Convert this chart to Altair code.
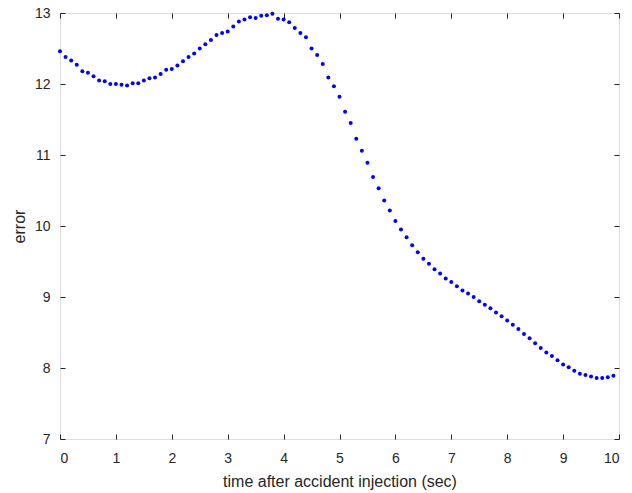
import altair as alt
import pandas as pd

times = [0.0, 0.1, 0.2, 0.3, 0.4, 0.5, 0.6, 0.7, 0.8, 0.9,
         1.0, 1.1, 1.2, 1.3, 1.4, 1.5, 1.6, 1.7, 1.8, 1.9,
         2.0, 2.1, 2.2, 2.3, 2.4, 2.5, 2.6, 2.7, 2.8, 2.9,
         3.0, 3.1, 3.2, 3.3, 3.4, 3.5, 3.6, 3.7, 3.8, 3.9,
         4.0, 4.1, 4.2, 4.3, 4.4, 4.5, 4.6, 4.7, 4.8, 4.9,
         5.0, 5.1, 5.2, 5.3, 5.4, 5.5, 5.6, 5.7, 5.8, 5.9,
         6.0, 6.1, 6.2, 6.3, 6.4, 6.5, 6.6, 6.7, 6.8, 6.9,
         7.0, 7.1, 7.2, 7.3, 7.4, 7.5, 7.6, 7.7, 7.8, 7.9,
         8.0, 8.1, 8.2, 8.3, 8.4, 8.5, 8.6, 8.7, 8.8, 8.9,
         9.0, 9.1, 9.2, 9.3, 9.4, 9.5, 9.6, 9.7, 9.8, 9.9]

errors = [12.46, 12.38, 12.33, 12.27, 12.18, 12.16, 12.11, 12.05, 12.04, 12.00,
          12.00, 11.99, 11.98, 12.01, 12.01, 12.05, 12.08, 12.09, 12.14, 12.20,
          12.21, 12.26, 12.32, 12.38, 12.43, 12.50, 12.56, 12.62, 12.69, 12.72,
          12.74, 12.81, 12.88, 12.91, 12.94, 12.93, 12.96, 12.97, 12.99, 12.92,
          12.91, 12.87, 12.79, 12.72, 12.66, 12.50, 12.41, 12.28, 12.09, 11.97,
          11.82, 11.61, 11.45, 11.23, 11.06, 10.89, 10.69, 10.53, 10.36, 10.22,
          10.07, 9.95, 9.84, 9.73, 9.63, 9.54, 9.47, 9.39, 9.33, 9.26,
          9.21, 9.15, 9.09, 9.05, 9.00, 8.94, 8.89, 8.84, 8.78, 8.73,
          8.67, 8.61, 8.55, 8.48, 8.42, 8.35, 8.28, 8.22, 8.17, 8.11,
          8.05, 8.01, 7.96, 7.92, 7.90, 7.88, 7.86, 7.86, 7.87, 7.89]

x_ticks = [0, 1, 2, 3, 4, 5, 6, 7, 8, 9, 10]
y_ticks = [7, 8, 9, 10, 11, 12, 13]

df = pd.DataFrame({"t": times, "err": errors})

W, H = 559, 426
FONT = "Liberation Sans"
TXT = "#262626"

xs = alt.Scale(domain=[0, 10], nice=False, zero=False)
ys = alt.Scale(domain=[7, 13], nice=False, zero=False)

base = alt.Chart(df)

main = base.mark_circle(size=16, color="#0000FF", opacity=1).encode(
    x=alt.X("t:Q", scale=xs, axis=alt.Axis(
        values=x_ticks, title="time after accident injection (sec)", orient="bottom",
        tickSize=0, domain=False, grid=False, labelPadding=12, labelFontSize=14,
        labelColor=TXT, labelFont=FONT, titleFont=FONT, titleFontSize=16,
        titleFontWeight="normal", titleColor=TXT, titlePadding=8)),
    y=alt.Y("err:Q", scale=ys, axis=alt.Axis(
        values=y_ticks, title="error", orient="left",
        tickSize=0, domain=False, grid=False, labelPadding=10, labelFontSize=14,
        labelColor=TXT, labelFont=FONT, titleFont=FONT, titleFontSize=16,
        titleFontWeight="normal", titleColor=TXT, titlePadding=7)),
)

tick_common = dict(labels=False, title=None, domain=False, grid=False,
                   tickSize=5, tickColor=TXT, tickWidth=1)

inner1 = base.mark_circle(opacity=0).encode(
    x=alt.X("t:Q", scale=xs, axis=alt.Axis(values=x_ticks, orient="top", offset=-H, **tick_common)),
    y=alt.Y("err:Q", scale=ys, axis=alt.Axis(values=y_ticks, orient="right", offset=-W, **tick_common)),
)

inner2 = base.mark_circle(opacity=0).encode(
    x=alt.X("t:Q", scale=xs, axis=alt.Axis(values=x_ticks, orient="bottom", offset=-H, **tick_common)),
    y=alt.Y("err:Q", scale=ys, axis=alt.Axis(values=y_ticks, orient="left", offset=-W, **tick_common)),
)

chart = alt.layer(inner1, inner2, main).resolve_axis(
    x="independent", y="independent"
).properties(
    width=W, height=H,
    autosize=alt.AutoSizeParams(type="none"),
    padding={"left": 60, "top": 13, "right": 13, "bottom": 54},
).configure_view(stroke=TXT, strokeWidth=1).configure(background="white")

chart.save("out.html", embed_options={"renderer": "svg", "actions": False})
